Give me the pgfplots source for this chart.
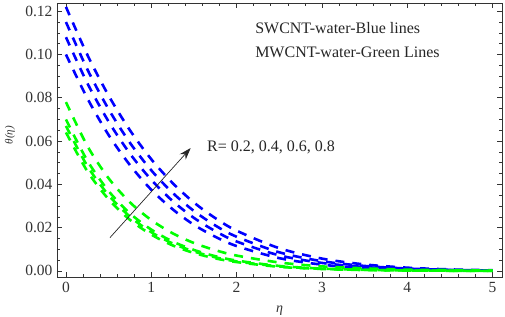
\documentclass[border=0pt]{standalone}
\usepackage{fontspec}
\setmainfont{Liberation Serif}
\usepackage{pgfplots}
\pgfplotsset{compat=1.18}
\usetikzlibrary{arrows.meta}
\definecolor{mblue}{rgb}{0,0,1}
\definecolor{mgreen}{rgb}{0,1,0}
\definecolor{tickc}{rgb}{0.2,0.2,0.2}
\pgfplotsset{curve/.style={line width=2.6pt, dash pattern=on 9pt off 8pt, smooth}}
\begin{document}
\begin{tikzpicture}
\begin{axis}[
  scale only axis,
  width=445pt, height=274pt,
  xmin=-0.105, xmax=5.11,
  ymin=-0.0028, ymax=0.1238,
  axis line style={line width=0.8pt, black!80},
  tick align=inside,
  xtick={0,1,2,3,4,5},
  ytick={0,0.02,0.04,0.06,0.08,0.10,0.12},
  minor x tick num=4,
  minor y tick num=3,
  major tick length=5pt,
  minor tick length=3pt,
  tick style={black!80, line width=0.6pt},
  scaled y ticks=false,
  yticklabel style={/pgf/number format/fixed, /pgf/number format/fixed zerofill, /pgf/number format/precision=2},
  /pgf/number format/assume math mode=true,
  ticklabel style={font=\fontsize{15.5}{17}\selectfont, text=tickc},
  xticklabel style={yshift=-2pt},
  yticklabel style={xshift=-1pt},
  clip mode=individual,
]
% SWCNT-water (blue), R = 0.2, 0.4, 0.6, 0.8
\addplot[mblue, curve] coordinates {
(0,0.1000)(0.25,0.0798)(0.5,0.0628)(0.75,0.0489)(1.0,0.0375)(1.25,0.0285)(1.5,0.0213)(1.75,0.0158)(2.0,0.0115)(2.5,0.0059)(3.0,0.0029)(3.5,0.0013)(4.0,0.0006)(4.5,0.0003)(5.0,0.0001)};
\addplot[mblue, curve] coordinates {
(0,0.1080)(0.25,0.0868)(0.5,0.0690)(0.75,0.0542)(1.0,0.0421)(1.25,0.0323)(1.5,0.0245)(1.75,0.0184)(2.0,0.0136)(2.5,0.0072)(3.0,0.0037)(3.5,0.0018)(4.0,0.0008)(4.5,0.0004)(5.0,0.0002)};
\addplot[mblue, curve] coordinates {
(0,0.1150)(0.25,0.0932)(0.5,0.0747)(0.75,0.0592)(1.0,0.0465)(1.25,0.0361)(1.5,0.0277)(1.75,0.0210)(2.0,0.0158)(2.5,0.0086)(3.0,0.0045)(3.5,0.0023)(4.0,0.0011)(4.5,0.0005)(5.0,0.0002)};
\addplot[mblue, curve] coordinates {
(0,0.1220)(0.25,0.0999)(0.5,0.0810)(0.75,0.0650)(1.0,0.0516)(1.25,0.0406)(1.5,0.0316)(1.75,0.0244)(2.0,0.0186)(2.5,0.0105)(3.0,0.0057)(3.5,0.0030)(4.0,0.0015)(4.5,0.0007)(5.0,0.0003)};
% MWCNT-water (green), R = 0.2, 0.4, 0.6, 0.8
\addplot[mgreen, curve] coordinates {
(0,0.0640)(0.25,0.0461)(0.5,0.0331)(0.75,0.0236)(1.0,0.0168)(1.25,0.0118)(1.5,0.0083)(1.75,0.0058)(2.0,0.0041)(2.5,0.0019)(3.0,0.0009)(3.5,0.0004)(4.0,0.0002)(4.5,0.0001)(5.0,0.0000)};
\addplot[mgreen, curve] coordinates {
(0,0.0670)(0.25,0.0485)(0.5,0.0350)(0.75,0.0251)(1.0,0.0179)(1.25,0.0127)(1.5,0.0090)(1.75,0.0063)(2.0,0.0044)(2.5,0.0021)(3.0,0.0010)(3.5,0.0005)(4.0,0.0002)(4.5,0.0001)(5.0,0.0000)};
\addplot[mgreen, curve] coordinates {
(0,0.0700)(0.25,0.0510)(0.5,0.0369)(0.75,0.0266)(1.0,0.0191)(1.25,0.0136)(1.5,0.0097)(1.75,0.0068)(2.0,0.0048)(2.5,0.0023)(3.0,0.0011)(3.5,0.0005)(4.0,0.0002)(4.5,0.0001)(5.0,0.0000)};
\addplot[mgreen, curve] coordinates {
(0,0.0780)(0.25,0.0578)(0.5,0.0428)(0.75,0.0317)(1.0,0.0235)(1.25,0.0174)(1.5,0.0129)(1.75,0.0096)(2.0,0.0071)(2.5,0.0039)(3.0,0.0021)(3.5,0.0012)(4.0,0.0006)(4.5,0.0004)(5.0,0.0002)};
% arrow and annotations
\draw[-{Stealth[length=12pt,width=8pt]}, line width=0.7pt, black!85] (axis cs:0.516,0.0154) -- (axis cs:1.462,0.0568);
\node[anchor=west, font=\fontsize{16}{18}\selectfont, text=black!85, inner sep=0pt] at (axis cs:1.653,0.0570) {R= 0.2, 0.4, 0.6, 0.8};
\node[anchor=west, font=\fontsize{16}{18}\selectfont, text=black!85, inner sep=0pt] at (axis cs:2.216,0.1122) {SWCNT-water-Blue lines};
\node[anchor=west, font=\fontsize{16}{18}\selectfont, text=black!85, inner sep=0pt] at (axis cs:2.216,0.1012) {MWCNT-water-Green Lines};
\end{axis}
% axis labels
\node[rotate=90, font=\fontsize{11}{13}\selectfont\itshape, text=black!80] at ([xshift=-47pt,yshift=142pt]current axis.south west) {θ(η)};
\node[anchor=south, font=\fontsize{14}{16}\selectfont\itshape, text=tickc, inner sep=0pt] at ([yshift=-39pt]current axis.south) {η};
\pgfresetboundingbox
\path ([xshift=-57pt,yshift=-40pt]current axis.south west) rectangle ([xshift=3pt,yshift=3pt]current axis.north east);
\end{tikzpicture}
\end{document}
